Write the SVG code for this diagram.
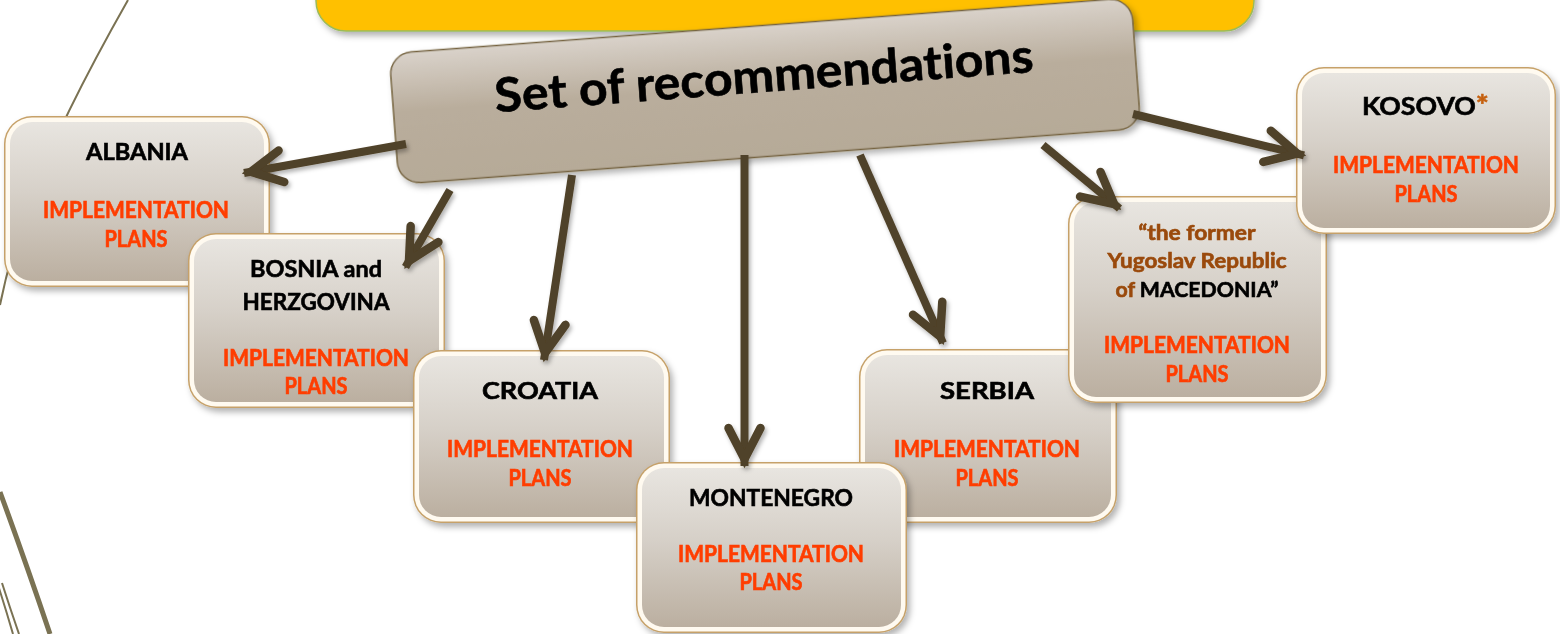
<svg xmlns="http://www.w3.org/2000/svg" width="1560" height="634" viewBox="0 0 1560 634">
  <defs>
    <linearGradient id="faceGrad" x1="0" y1="0" x2="0" y2="1">
      <stop offset="0" stop-color="#E8E5E0"/>
      <stop offset="0.45" stop-color="#D6D0C8"/>
      <stop offset="1" stop-color="#BBAFA0"/>
    </linearGradient>
    <linearGradient id="mainGrad" x1="0" y1="0" x2="0" y2="1">
      <stop offset="0" stop-color="#D9D2CA"/>
      <stop offset="0.45" stop-color="#B9AD9C"/>
      <stop offset="1" stop-color="#B6AA98"/>
    </linearGradient>
    <filter id="shadow" x="-10%" y="-10%" width="125%" height="130%">
      <feDropShadow dx="3" dy="4" stdDeviation="3" flood-color="#000" flood-opacity="0.3"/>
    </filter>
    <filter id="arrowShadow" x="-20%" y="-20%" width="140%" height="140%">
      <feDropShadow dx="2" dy="3" stdDeviation="2" flood-color="#000" flood-opacity="0.3"/>
    </filter>
    <marker id="head" markerUnits="userSpaceOnUse" markerWidth="1" markerHeight="1" refX="0" refY="0" orient="auto" overflow="visible">
      <path d="M-38,-16 L-7,0 L-38,16" fill="none" stroke="#504229" stroke-width="8.5" stroke-linecap="round" stroke-linejoin="miter" stroke-miterlimit="10"/>
    </marker>
    <style>
      .rim { fill: #C6A169; }
      .band { fill: #FFFAF0; }
      .face { fill: url(#faceGrad); }
      .node { filter: url(#shadow); }
      text { font-family: Lato, "Open Sans", "Liberation Sans", sans-serif; font-weight: bold; text-anchor: middle; stroke-width: 0.6px; font-variant-ligatures: none; }
      .name { fill: #000; stroke: #000; font-size: 23px; }
      .plan { fill: #FF3D00; stroke: #FF3D00; font-size: 22px; }
      .brown { fill: #9A4A0A; stroke: #9A4A0A; }
      .blk { fill: #000; stroke: #000; }
      .conn { fill: none; stroke: #504229; stroke-width: 8; stroke-linecap: butt; marker-end: url(#head); }
      .bgline { fill: none; stroke: #7A7253; }
    </style>
  </defs>

  <!-- background decorative lines -->
  <g id="background">
    <path class="bgline" stroke-width="2" d="M128,0 Q60,120 30,200 Q10,255 0,305"/>
    <path class="bgline" stroke-width="5" d="M0,492 Q25,560 50,634"/>
    <path class="bgline" stroke-width="2" d="M-2,585 Q6,610 13,634"/>
    <path class="bgline" stroke-width="2" d="M2,583 Q10,608 19,634"/>
  </g>

  <!-- yellow header box -->
  <g id="header">
    <rect x="316" y="-100" width="938" height="131" rx="30" fill="#FFC000" stroke="#9BBB59" stroke-width="1.5" filter="url(#shadow)"/>
  </g>

  <!-- central node -->
  <g id="recommendations" transform="translate(765,91) rotate(-4.3)">
    <rect x="-372" y="-65.5" width="744" height="131" rx="22" fill="url(#mainGrad)" stroke="#76643F" stroke-width="1.5" filter="url(#shadow)"/>
    <text class="blk" x="0" y="1" font-size="47" stroke-width="1.2" textLength="540" lengthAdjust="spacingAndGlyphs">Set of recommendations</text>
  </g>

  <!-- country nodes -->
  <g id="albania" class="node">
    <rect class="rim" x="4" y="116" width="266" height="171" rx="28"/>
    <rect class="band" x="5.5" y="117.5" width="263" height="168" rx="26.5"/>
    <rect class="face" x="10" y="122" width="254" height="159" rx="22"/>
    <text class="name" x="137" y="160" font-size="23.5" textLength="102" lengthAdjust="spacingAndGlyphs">ALBANIA</text>
    <text class="plan" x="136" y="218" textLength="186" lengthAdjust="spacingAndGlyphs">IMPLEMENTATION</text>
    <text class="plan" x="136" y="247" textLength="63" lengthAdjust="spacingAndGlyphs">PLANS</text>
  </g>

  <g id="bosnia" class="node">
    <rect class="rim" x="188" y="233" width="257" height="175" rx="28"/>
    <rect class="band" x="189.5" y="234.5" width="254" height="172" rx="26.5"/>
    <rect class="face" x="194" y="239" width="245" height="163" rx="22"/>
    <text class="name" x="316" y="277" textLength="132" lengthAdjust="spacingAndGlyphs">BOSNIA and</text>
    <text class="name" x="316" y="310" textLength="147" lengthAdjust="spacingAndGlyphs">HERZGOVINA</text>
    <text class="plan" x="316" y="366" textLength="186" lengthAdjust="spacingAndGlyphs">IMPLEMENTATION</text>
    <text class="plan" x="316" y="394" textLength="63" lengthAdjust="spacingAndGlyphs">PLANS</text>
  </g>

  <g id="croatia" class="node">
    <rect class="rim" x="413" y="350" width="257" height="173" rx="28"/>
    <rect class="band" x="414.5" y="351.5" width="254" height="170" rx="26.5"/>
    <rect class="face" x="419" y="356" width="245" height="161" rx="22"/>
    <text class="name" x="540" y="399" font-size="28" textLength="116" lengthAdjust="spacingAndGlyphs">CROATIA</text>
    <text class="plan" x="540" y="457" textLength="186" lengthAdjust="spacingAndGlyphs">IMPLEMENTATION</text>
    <text class="plan" x="540" y="486" textLength="63" lengthAdjust="spacingAndGlyphs">PLANS</text>
  </g>

  <g id="serbia" class="node">
    <rect class="rim" x="859" y="349" width="258" height="174" rx="28"/>
    <rect class="band" x="860.5" y="350.5" width="255" height="171" rx="26.5"/>
    <rect class="face" x="865" y="355" width="246" height="162" rx="22"/>
    <text class="name" x="987" y="399" font-size="28" textLength="94" lengthAdjust="spacingAndGlyphs">SERBIA</text>
    <text class="plan" x="987" y="457" textLength="186" lengthAdjust="spacingAndGlyphs">IMPLEMENTATION</text>
    <text class="plan" x="987" y="486" textLength="63" lengthAdjust="spacingAndGlyphs">PLANS</text>
  </g>

  <g id="macedonia" class="node">
    <rect class="rim" x="1068" y="196" width="259" height="207" rx="28"/>
    <rect class="band" x="1069.5" y="197.5" width="256" height="204" rx="26.5"/>
    <rect class="face" x="1074" y="202" width="247" height="195" rx="22"/>
    <text class="brown" x="1197" y="240" font-size="20.5" textLength="117" lengthAdjust="spacingAndGlyphs">“the former</text>
    <text class="brown" x="1197" y="268" font-size="20.5" textLength="179" lengthAdjust="spacingAndGlyphs">Yugoslav Republic</text>
    <text x="1197" y="297" font-size="20.5" textLength="163" lengthAdjust="spacingAndGlyphs"><tspan class="brown">of </tspan><tspan class="blk">MACEDONIA”</tspan></text>
    <text class="plan" x="1197" y="353" textLength="186" lengthAdjust="spacingAndGlyphs">IMPLEMENTATION</text>
    <text class="plan" x="1197" y="382" textLength="63" lengthAdjust="spacingAndGlyphs">PLANS</text>
  </g>

  <g id="kosovo" class="node">
    <rect class="rim" x="1296" y="67" width="260" height="167" rx="28"/>
    <rect class="band" x="1297.5" y="68.5" width="257" height="164" rx="26.5"/>
    <rect class="face" x="1302" y="73" width="248" height="155" rx="22"/>
    <text x="1425.5" y="115" font-size="25" textLength="127" lengthAdjust="spacingAndGlyphs"><tspan class="blk">KOSOVO</tspan><tspan fill="#C5600F" stroke="#C5600F" font-size="29">*</tspan></text>
    <text class="plan" x="1426" y="173" textLength="186" lengthAdjust="spacingAndGlyphs">IMPLEMENTATION</text>
    <text class="plan" x="1426" y="202" textLength="63" lengthAdjust="spacingAndGlyphs">PLANS</text>
  </g>

  <g id="montenegro" class="node">
    <rect class="rim" x="636" y="462" width="271" height="171" rx="28"/>
    <rect class="band" x="637.5" y="463.5" width="268" height="168" rx="26.5"/>
    <rect class="face" x="642" y="468" width="259" height="159" rx="22"/>
    <text class="name" x="771" y="506" textLength="164" lengthAdjust="spacingAndGlyphs">MONTENEGRO</text>
    <text class="plan" x="771" y="562" textLength="186" lengthAdjust="spacingAndGlyphs">IMPLEMENTATION</text>
    <text class="plan" x="771" y="590" textLength="63" lengthAdjust="spacingAndGlyphs">PLANS</text>
  </g>

  <!-- connectors -->
  <g id="connectors" filter="url(#arrowShadow)">
    <line class="conn" x1="406" y1="144" x2="244" y2="173"/>
    <line class="conn" x1="450" y1="190" x2="405.5" y2="267"/>
    <line class="conn" x1="572" y1="175" x2="544" y2="360"/>
    <line class="conn" x1="744.5" y1="155" x2="744.5" y2="466"/>
    <line class="conn" x1="860" y1="155" x2="943" y2="343"/>
    <line class="conn" x1="1043" y1="145" x2="1119.5" y2="208.5"/>
    <line class="conn" x1="1133" y1="114" x2="1304" y2="155.3"/>
  </g>
</svg>
